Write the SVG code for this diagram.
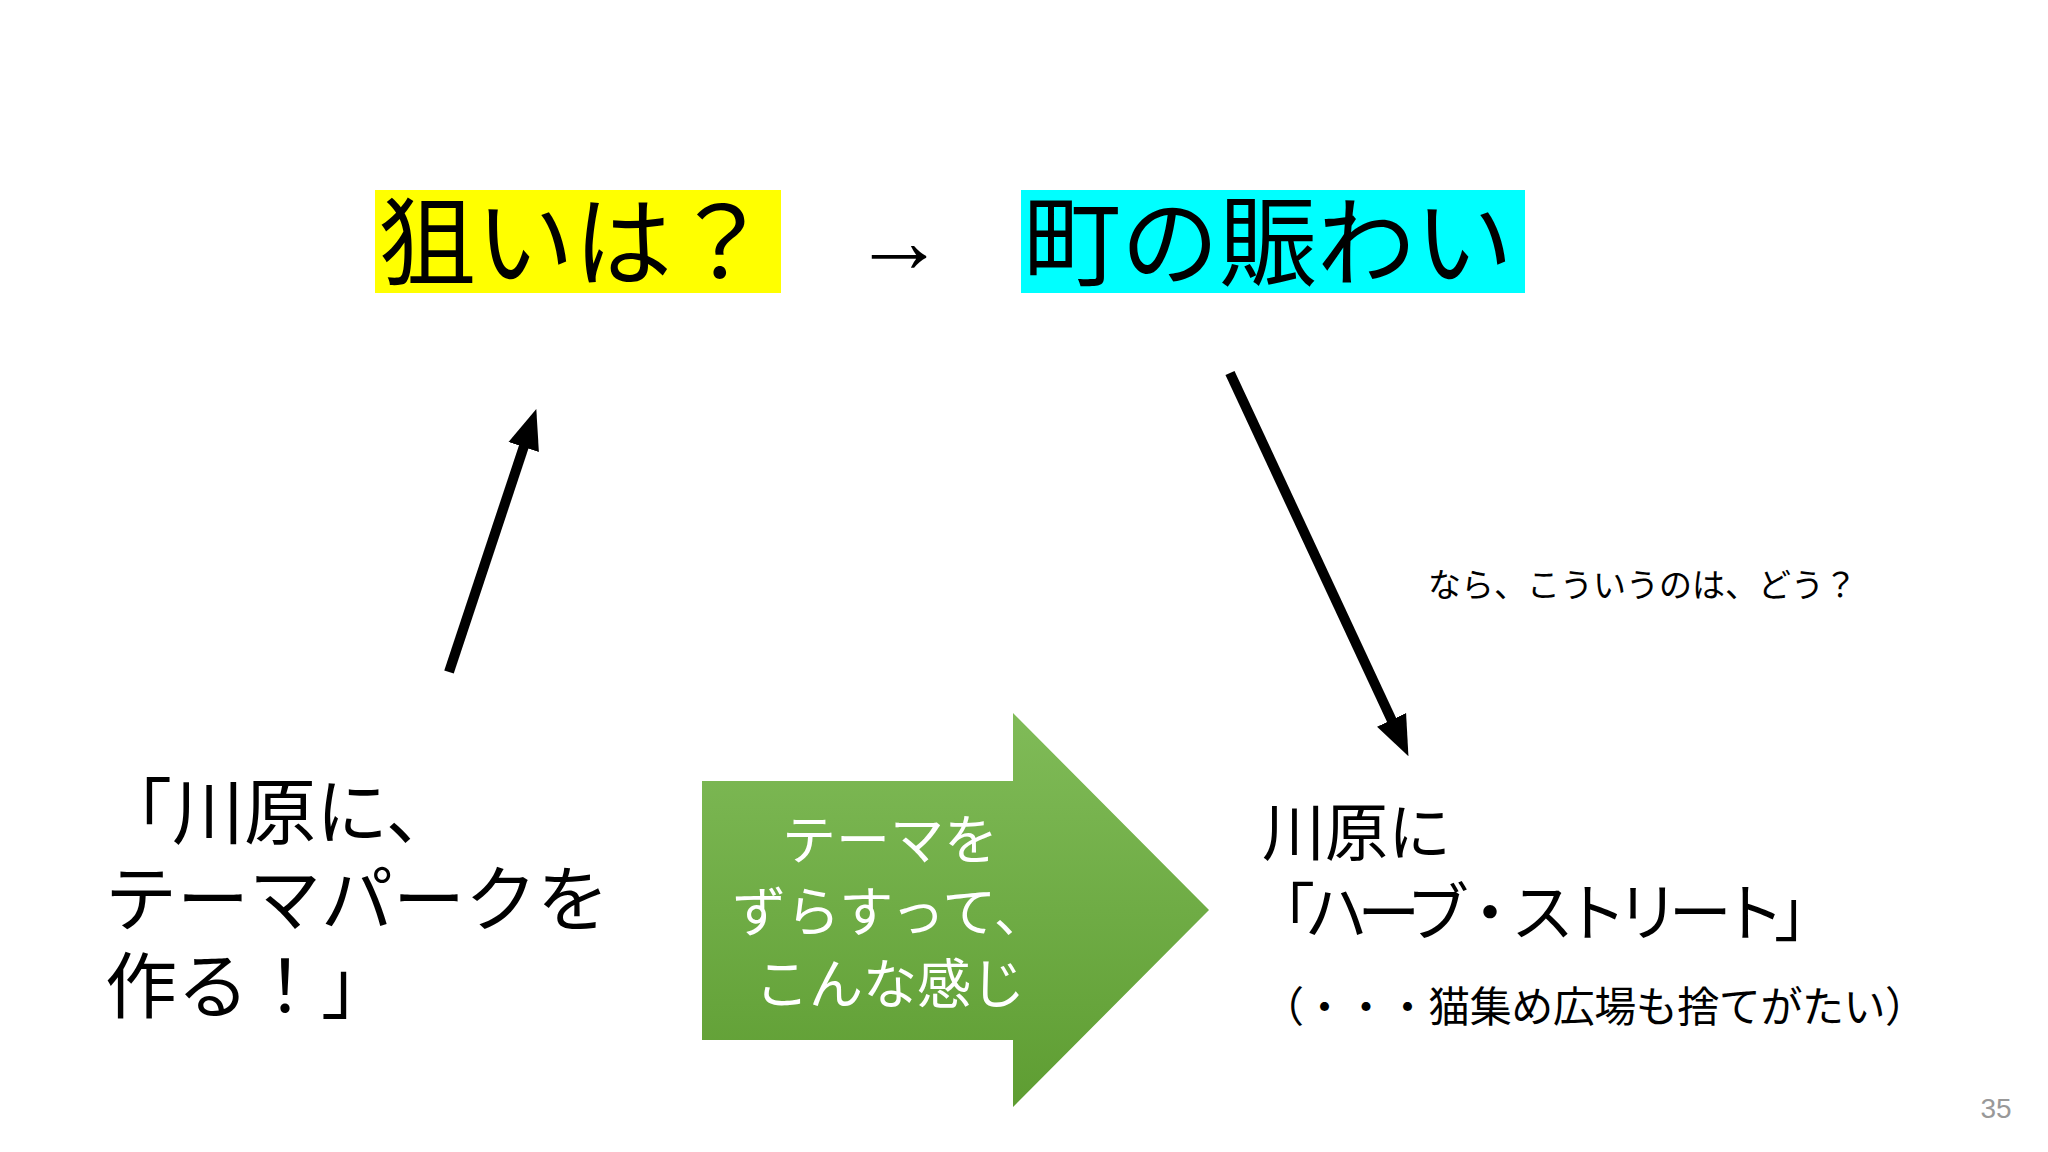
<svg xmlns="http://www.w3.org/2000/svg" width="2048" height="1152" viewBox="0 0 2048 1152">
<defs>
<style>
.t{font-family:"Liberation Serif","Noto Sans CJK JP",serif;fill:#000}
.w{font-family:"Noto Sans CJK JP",sans-serif;fill:#fff;text-anchor:middle;font-size:54px}
.c{stroke:#000;stroke-width:10;fill:none}
</style>
<marker id="ah" viewBox="0 0 10 10" refX="5" refY="5" markerWidth="4" markerHeight="4" orient="auto" markerUnits="strokeWidth"><path d="M0,1 L10,5 L0,9 Z" fill="#000"/></marker>
<linearGradient id="g" x1="0" y1="0" x2="0" y2="1"><stop offset="0" stop-color="#80bb58"/><stop offset="1" stop-color="#5e9d32"/></linearGradient>
</defs>
<rect width="2048" height="1152" fill="#fff"/>
<g id="goal"><rect x="375" y="190" width="406" height="103" fill="#ffff00"/><text class="t" x="378" y="278" font-size="98">狙いは？</text></g>
<g id="arrowtext"><text class="t" x="853" y="272" font-size="92">→</text></g>
<g id="town"><rect x="1021" y="190" width="504" height="103" fill="#00ffff"/><text class="t" x="1023" y="278" font-size="98">町の賑わい</text></g>
<g id="connectors">
<line class="c" x1="449" y1="672" x2="530" y2="428" marker-end="url(#ah)"/>
<line class="c" x1="1230" y1="373" x2="1400" y2="738" marker-end="url(#ah)"/>
</g>
<g id="note"><text class="t" x="1428" y="597" font-size="33">なら、こういうのは、どう？</text></g>
<g id="left"><text class="t" font-size="72"><tspan x="100" y="838">「川原に、</tspan><tspan x="105" y="925">テーマパークを</tspan><tspan x="105" y="1012">作る！」</tspan></text></g>
<g id="bigarrow"><path d="M702,781 H1013 V713 L1209,910 L1013,1107 V1040 H702 Z" fill="url(#g)"/>
<text class="w"><tspan x="890" y="860">テーマを</tspan><tspan x="890" y="932">ずらすって、</tspan><tspan x="890" y="1004">こんな感じ</tspan></text></g>
<g id="right"><text class="t" font-size="63"><tspan x="1262" y="855">川原に</tspan><tspan x="1252" y="935" textLength="585">「ハーブ・ストリート」</tspan></text>
<text class="t" font-size="42" x="1262" y="1022" textLength="665">（・・・猫集め広場も捨てがたい）</text></g>
<g id="page"><text x="1996" y="1118" font-family="Liberation Sans,sans-serif" font-size="28" fill="#999" text-anchor="middle">35</text></g>
</svg>
